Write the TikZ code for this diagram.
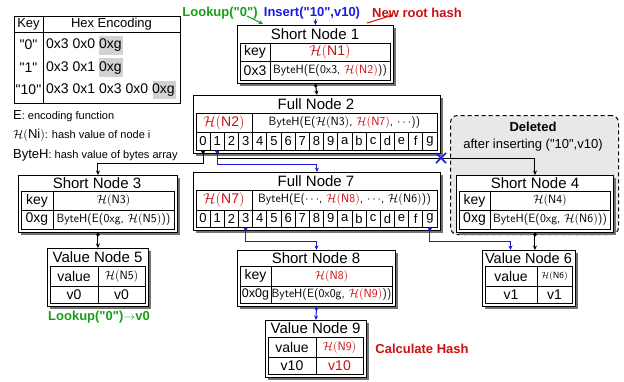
\documentclass[tikz,border=0pt]{standalone}
\usepackage{fontspec}
\setmainfont{Liberation Sans}[Ligatures=TeXOff]
\usetikzlibrary{arrows.meta,shadows}
\definecolor{cgreen}{RGB}{20,160,20}
\definecolor{cblue}{RGB}{25,25,225}
\definecolor{cred}{RGB}{205,15,15}
\newcommand\fs[1]{\fontsize{#1}{#1}\selectfont}
\newcommand\HH{\mathcal{H}}
\newcounter{cellno}
\newcommand\cell[6][]{\stepcounter{cellno}\draw[cl] (#2,#3) rectangle (#4,#5);
  \node[tx,#1] (cell\arabic{cellno}) at ({(#2+#4)/2},{(#3+#5)/2}) {#6};}
\newcommand\idxrow[3]{%
  \foreach \lab [count=\i from 0] in {0,1,2,3,4,5,6,7,8,9,a,b,c,d,e,f,g}{
    \draw[cl] ({196+\i*14.176},#1) rectangle ({196+(\i+1)*14.176},#2);
    \node[idx] (#3\i) at ({196+(\i+0.5)*14.176},{(#1+#2)/2}) {\lab};
    \coordinate (#3\i b) at ({196+(\i+0.5)*14.176},#2);
  }}
\begin{document}
\begin{tikzpicture}[x=1pt,y=-1pt,
  nbox/.style={draw, fill=white, line width=0.9pt, anchor=north west, inner sep=0pt,
    drop shadow={shadow xshift=2.2pt,shadow yshift=-2.2pt,fill=black!55,opacity=1}},
  cl/.style={line width=0.8pt},
  ttl/.style={font=\fs{15}, inner sep=0pt},
  tx/.style={font=\fs{14}, inner sep=0pt},
  idx/.style={font=\fs{13}, inner sep=0pt},
  bh/.style={font=\sffamily\fs{12}, inner sep=0pt},
  lbl/.style={font=\bfseries\fs{13}, inner sep=0pt},
  tip/.style={-{Stealth[length=4.5pt,width=4pt]}},
  conn/.style={line width=1pt, {Circle[length=3.5pt]}-{Stealth[length=4.5pt,width=4pt]}},
]
\useasboundingbox (0,0) rectangle (624,381);

% ---------- key table ----------
\fill[gray!35] (99,36) rectangle (123,55);
\fill[gray!35] (99,58) rectangle (123,77);
\fill[gray!35] (153,81) rectangle (176,99);
\draw[line width=1pt] (14,16) rectangle (180,103);
\draw[cl] (14,32) -- (180,32);
\draw[cl] (43,16) -- (43,103);
\node[tx,font=\fs{13}] (kh1) at (28.5,24) {Key};
\node[tx,font=\fs{13}] (kh2) at (111.5,24) {Hex Encoding};
\node[tx] (k0) at (28.5,45) {"0"};
\node[tx] (k1) at (28.5,68) {"1"};
\node[tx] (k10) at (28.5,90) {"10"};
\node[tx,anchor=west] (e0) at (46,45) {0x3 0x0 0xg};
\node[tx,anchor=west] (e1) at (46,68) {0x3 0x1 0xg};
\node[tx,anchor=west] (e10) at (46,90) {0x3 0x1 0x3 0x0 0xg};

% ---------- legend ----------
\node[anchor=west,inner sep=0pt] (lgE) at (13,116) {\fs{13}E\fs{11}: encoding function};
\node[anchor=west,inner sep=0pt] (lgH) at (13,135) {\fs{13}$\HH($Ni$)$\fs{11}: hash value of node i};
\node[anchor=west,inner sep=0pt] (lgB) at (13,155) {\fs{13}ByteH\fs{11}: hash value of bytes array};

% ---------- deleted region ----------
\node[draw, dash pattern=on 4pt off 3pt, rounded corners=7pt, fill=gray!18, line width=1pt,
  anchor=north west, minimum width=168pt, minimum height=119pt] (del) at (450,115) {};
\node[lbl] (delt) at (533,127) {Deleted};
\node[tx,font=\fs{13}] (dels) at (533,145) {after inserting ("10",v10)};

% ---------- Short Node 1 ----------
\node[nbox, minimum width=156pt, minimum height=58pt] (sn1) at (237,25) {};
\node[ttl] (sn1t) at (315,34) {Short Node 1};
\cell{240}{43}{270}{61}{key}
\cell{270}{43}{390}{61}{\textcolor{cred}{$\HH($N1$)$}}
\cell{240}{61}{270}{80}{0x3}
\cell[bh]{270}{61}{390}{80}{ByteH(E(0x3, \textcolor{cred}{$\HH($N2$)$}))}

% ---------- Full Node 2 ----------
\node[nbox, minimum width=247pt, minimum height=58pt] (fn2) at (193,95) {};
\node[ttl] (fn2t) at (316,104) {Full Node 2};
\cell{196}{113}{252}{132}{\textcolor{cred}{$\HH($N2$)$}}
\cell[bh]{252}{113}{437}{132}{ByteH(E($\HH($N3$)$, \textcolor{cred}{$\HH($N7$)$}, $\cdots$))}
\idxrow{132}{150}{fa}

% ---------- Full Node 7 ----------
\node[nbox, minimum width=247pt, minimum height=58pt] (fn7) at (193,172) {};
\node[ttl] (fn7t) at (316,181) {Full Node 7};
\cell{196}{190}{252}{210}{\textcolor{cred}{$\HH($N7$)$}}
\cell[bh]{252}{190}{437}{210}{ByteH(E($\cdots$, \textcolor{cred}{$\HH($N8$)$}, $\cdots$, $\HH($N6$)$))}
\idxrow{210}{227}{fb}

% ---------- Short Node 3 ----------
\node[nbox, minimum width=159pt, minimum height=57pt] (sn3) at (18,175) {};
\node[ttl] (sn3t) at (97,183) {Short Node 3};
\cell{21}{191}{53}{210}{key}
\cell[bh]{53}{191}{174}{210}{$\HH($N3$)$}
\cell{21}{210}{53}{229}{0xg}
\cell[bh]{53}{210}{174}{229}{ByteH(E(0xg, $\HH($N5$)$))}

% ---------- Value Node 5 ----------
\node[nbox, minimum width=101pt, minimum height=58pt] (vn5) at (47,248) {};
\node[ttl] (vn5t) at (97.5,257) {Value Node 5};
\cell{50}{266}{98}{286}{value}
\cell[bh]{98}{266}{145}{286}{$\HH($N5$)$}
\cell{50}{286}{98}{303}{v0}
\cell{98}{286}{145}{303}{v0}

% ---------- Short Node 4 ----------
\node[nbox, minimum width=157pt, minimum height=57pt] (sn4) at (456,175) {};
\node[ttl] (sn4t) at (535,183) {Short Node 4};
\cell{459}{191}{490}{210}{key}
\cell[bh]{490}{191}{610}{210}{$\HH($N4$)$}
\cell{459}{210}{490}{229}{0xg}
\cell[bh]{490}{210}{610}{229}{ByteH(E(0xg, $\HH($N6$)$))}

% ---------- Value Node 6 ----------
\node[nbox, minimum width=93pt, minimum height=56pt] (vn6) at (482,250) {};
\node[ttl,font=\fs{14.5}] (vn6t) at (528.5,258) {Value Node 6};
\cell{485}{266}{537}{286}{value}
\cell[bh,font=\sffamily\fs{9}]{537}{266}{572}{286}{$\HH($N6$)$}
\cell{485}{286}{537}{303}{v1}
\cell{537}{286}{572}{303}{v1}

% ---------- Short Node 8 ----------
\node[nbox, minimum width=158pt, minimum height=56pt] (sn8) at (237,250) {};
\node[ttl] (sn8t) at (316,258) {Short Node 8};
\cell{240}{266}{271}{286}{key}
\cell[bh]{271}{266}{392}{286}{\textcolor{cred}{$\HH($N8$)$}}
\cell[font=\fs{12.5}]{240}{286}{271}{303}{0x0g}
\cell[bh]{271}{286}{392}{303}{ByteH(E(0x0g, \textcolor{cred}{$\HH($N9$)$}))}

% ---------- Value Node 9 ----------
\node[nbox, minimum width=101pt, minimum height=57pt] (vn9) at (265,320) {};
\node[ttl] (vn9t) at (315.5,328) {Value Node 9};
\cell{268}{337}{316}{357}{value}
\cell[bh]{316}{337}{363}{357}{\textcolor{cred}{$\HH($N9$)$}}
\cell{268}{357}{316}{374}{v10}
\cell{316}{357}{363}{374}{\textcolor{cred}{v10}}

% ---------- labels ----------
\node[lbl,text=cgreen] (lookup) at (220,13) {Lookup("0")};
\node[lbl,text=cblue] (insert) at (312,13) {Insert("10",v10)};
\node[lbl,text=cred] (newroot) at (417,13) {New root hash};
\node[lbl,text=cgreen] (lookres) at (99,317) {Lookup("0")$\rightarrow$v0};
\node[lbl,text=cred] (calc) at (422,349) {Calculate Hash};

\coordinate (gs) at (247,16);
\coordinate (ge) at (263,24);
\draw[cgreen,line width=1pt,tip] (gs) -- (ge);
\draw[cblue,line width=1pt,tip] (insert.south -| sn1.north) -- (sn1.north);
\coordinate (rs) at (367,23);
\coordinate (re) at (393,15);
\draw[cred,line width=1pt,tip] (rs) -- (re);

% ---------- connectors ----------
\draw[conn] (sn1.south) -- (fn2.north);
\draw[conn] (fa0b) -- ++(0,13) -| (sn3.north);
\draw[conn] (fa1b) -- ++(0,8) -| (sn4.north);
\draw[conn,cblue] (fa1b) -- ++(0,14) -| (fn7.north);
\draw[conn] (sn3.south) -- (vn5.north);
\draw[conn] (sn4.south) -- (sn4.south |- vn6.north);
\draw[conn,cblue] (fb3b) -- ++(0,14) -| (sn8.north);
\draw[conn,cblue] (fb16b) -- ++(0,14) -| ([xshift=-18.5pt]vn6.north);
\draw[conn,cblue] (sn8.south) -- (vn9.north);
\draw[cblue,line width=1.5pt] (436,153) -- (446,163) (436,163) -- (446,153);
\end{tikzpicture}
\end{document}
